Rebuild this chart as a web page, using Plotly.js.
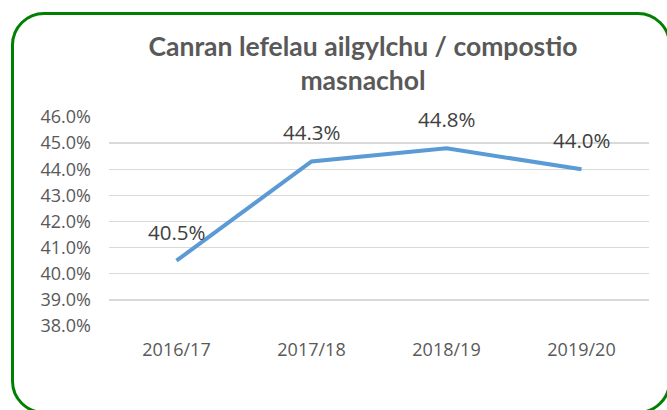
<!DOCTYPE html>
<html><head><meta charset="utf-8">
<script src="https://cdn.plot.ly/plotly-3.0.1.min.js"></script>
<style>
html,body{margin:0;padding:0;overflow:hidden;background:#fff}
#wrap{position:relative;width:667px;height:410px;overflow:hidden}
#chart{width:667px;height:410px}
#frame{position:absolute;left:10.5px;top:11.5px;width:660px;height:402px;border:3px solid #008000;border-radius:33px;pointer-events:none;box-sizing:border-box}
</style></head>
<body>
<div id="wrap"><div id="chart"></div><div id="frame"></div></div>
<script>
const categories = ['2016/17', '2017/18', '2018/19', '2019/20'];
const values = [0.405, 0.443, 0.448, 0.440];
const yTickValues = [0.38, 0.39, 0.40, 0.41, 0.42, 0.43, 0.44, 0.45, 0.46];
const chartTitle = 'Canran lefelau ailgylchu / compostio<br>masnachol';

const labels = values.map(v => (v * 100).toFixed(1) + '%');

const trace = {
  x: categories, y: values, type: 'scatter', mode: 'lines',
  line: {color: '#5B9BD5', width: 4}, hoverinfo: 'skip'
};

const annotations = categories.map((c, i) => ({
  x: c, y: values[i], xref: 'x', yref: 'y', text: labels[i], showarrow: false,
  yshift: 29, xanchor: 'center', yanchor: 'middle',
  font: {family: 'Open Sans, sans-serif', size: 20.5, color: '#404040'}
}));

const layout = {
  width: 667, height: 410,
  margin: {l: 109, r: 18, t: 117, b: 84},
  paper_bgcolor: '#ffffff', plot_bgcolor: '#ffffff',
  showlegend: false,
  title: {
    text: '<b>' + chartTitle + '</b>',
    x: 363 / 667, xanchor: 'center', xref: 'container',
    y: 0.864, yanchor: 'top', yref: 'container',
    font: {family: 'Lato, sans-serif', size: 26.5, color: '#595959'}
  },
  xaxis: {
    type: 'category', range: [-0.5, 3.5], showgrid: false, zeroline: false,
    showline: false, ticks: '', ticklabelstandoff: 11,
    tickfont: {family: 'Open Sans, sans-serif', size: 18, color: '#595959'}
  },
  yaxis: {
    range: [0.38, 0.46], tickvals: yTickValues, tickformat: '.1%',
    showgrid: true, gridcolor: '#d9d9d9', gridwidth: 1.3, zeroline: false,
    showline: false, ticks: '', ticklabelstandoff: 17,
    tickfont: {family: 'Open Sans, sans-serif', size: 18, color: '#595959'}
  },
  annotations: annotations
};

Plotly.newPlot('chart', [trace], layout, {displayModeBar: false, staticPlot: true});
</script>
</body></html>
